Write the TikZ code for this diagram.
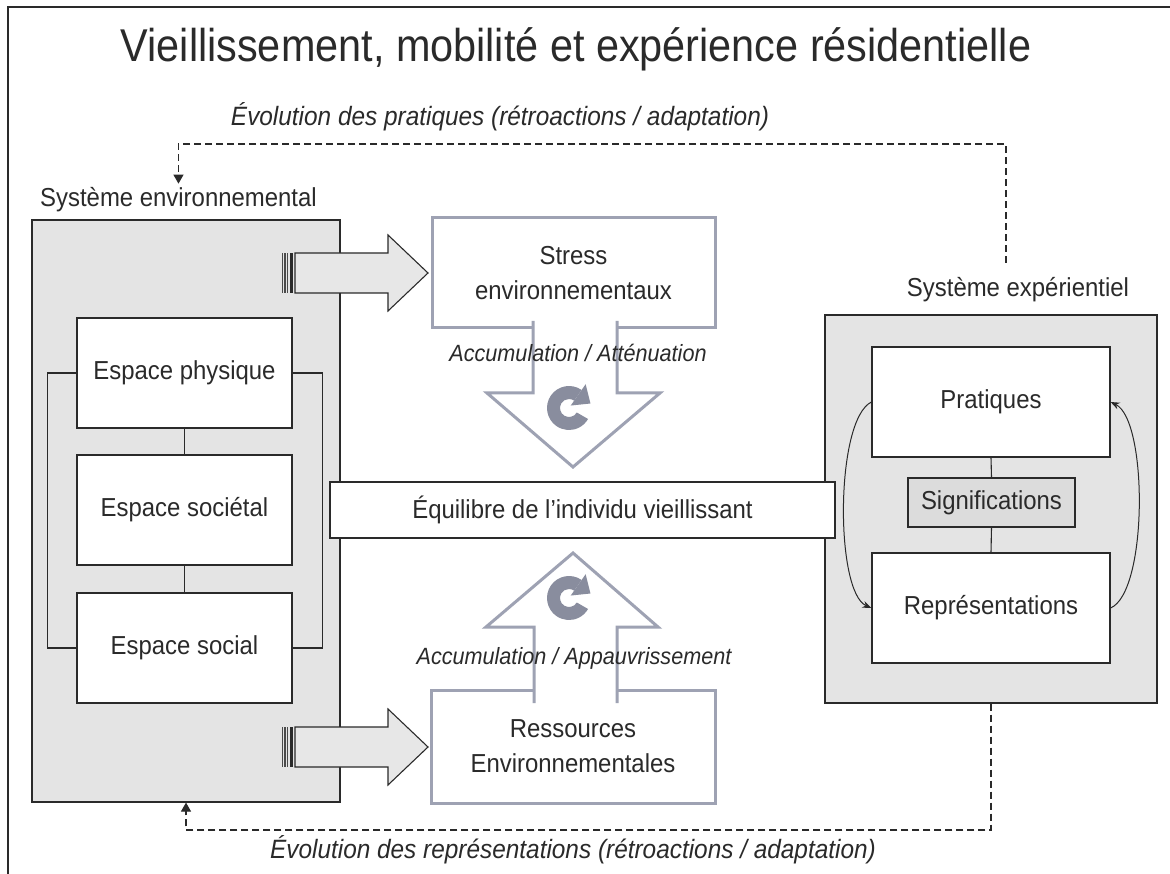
\documentclass[tikz,border=0pt]{standalone}
\usepackage{fontspec}
\setmainfont[FakeStretch=0.92]{Liberation Sans}
\newfontfamily\headfont[FakeStretch=0.9]{Liberation Sans}
\usetikzlibrary{arrows.meta,calc}

\definecolor{panelgray}{HTML}{E4E4E4}
\definecolor{signgray}{HTML}{DCDCDC}
\definecolor{inkgray}{HTML}{2A2A2A}
\definecolor{slateline}{HTML}{9EA2B3}
\definecolor{slateicon}{HTML}{898D9E}
\definecolor{arrowfill}{HTML}{E7E7E7}

\tikzset{
  panel/.style={draw=inkgray, line width=1.2pt, fill=panelgray, inner sep=0pt},
  whitebox/.style={draw=inkgray, line width=1.2pt, fill=white, inner sep=0pt,
    text=inkgray, font=\fontsize{26}{31}\selectfont},
  softbox/.style={draw=slateline, line width=3pt, fill=white, inner sep=0pt,
    align=center, text=inkgray, font=\fontsize{26}{35}\selectfont},
  caption/.style={inner sep=0pt, text=inkgray, font=\fontsize{26}{31}\selectfont},
  note/.style={inner sep=0pt, text=inkgray, font=\fontsize{26.5}{31}\selectfont\itshape},
  flownote/.style={inner sep=0pt, text=inkgray, font=\fontsize{23.5}{28}\selectfont\itshape},
  link/.style={draw=inkgray, line width=1.1pt},
  feedback/.style={draw=inkgray, line width=1.1pt, dash pattern=on 7pt off 4pt},
  loopline/.style={draw=inkgray, line width=1pt, -{Stealth[length=9pt,width=7pt]}},
  hollowarrow/.style={draw=slateline, line width=3pt, line join=miter},
  widearrow/.style={draw=inkgray, line width=1.1pt, fill=arrowfill, line join=miter},
}

% wide grey arrow leaving the environment panel, centred on a given height
\newcommand{\widearrowat}[1]{%
  \begin{scope}[shift={(0,#1)}]
    \path[widearrow] (295,-20) -- (388,-20) -- (388,-38) -- (428,0)
      -- (388,38) -- (388,20) -- (295,20) -- cycle;
    \fill[inkgray!85] (281.5,-20) rectangle (283,20);
    \fill[inkgray!85] (284.2,-20) rectangle (285.7,20);
    \fill[inkgray!85] (286.9,-20) rectangle (288.2,20);
    \fill[inkgray] (290.3,-20) rectangle (292.6,20);
  \end{scope}}

% circular "cycle" symbol: a thick open ring with its head at the upper right
\newcommand{\cyclesign}[1]{%
  \begin{scope}[shift={#1}, yscale=-1]
    \fill[slateicon] (55:22) arc[start angle=55, end angle=330, radius=22]
      -- (330:9) arc[start angle=330, end angle=55, radius=9] -- cycle;
    \fill[slateicon] (55:3) -- (55:29) -- ($(55:16)+(-35:15)$) -- cycle;
  \end{scope}}

\begin{document}
\begin{tikzpicture}[x=1pt, y=-1pt]
\useasboundingbox (0,0) rectangle (1170,874);
\fill[white] (0,0) rectangle (1170,874);

% page frame
\draw[inkgray, line width=1.6pt] (8,874) -- (8,7) -- (1170,7);

% title
\node[inner sep=0pt, text=inkgray, font=\headfont\fontsize{46}{52}\selectfont, anchor=base]
  (title) at (576,62) {Vieillissement, mobilité et expérience résidentielle};

% feedback captions
\node[note, anchor=base] (notetop) at (500,126)
  {Évolution des pratiques (rétroactions / adaptation)};
\node[note, anchor=base] (notebottom) at (573,858)
  {Évolution des représentations (rétroactions / adaptation)};

% environmental system
\node[panel, minimum width=308, minimum height=582] (env) at (186,511) {};
\node[caption, anchor=base west] (envlabel) at (40,207) {Système environnemental};

\node[whitebox, minimum width=215, minimum height=110] (phys) at (184.5,373) {Espace physique};
\node[whitebox, minimum width=215, minimum height=110] (societal) at (184.5,510) {Espace sociétal};
\node[whitebox, minimum width=215, minimum height=110] (social) at (184.5,648) {Espace social};

\draw[link] (phys.south) -- (societal.north);
\draw[link] (societal.south) -- (social.north);
\draw[link] (phys.west) -- ++(-29,0) |- (social.west);
\draw[link] (phys.east) -- ++(30,0) |- (social.east);

% experiential system
\node[panel, minimum width=332, minimum height=388] (exp) at (991,509) {};
\node[caption, anchor=base] (explabel) at (1018,297) {Système expérientiel};

\node[whitebox, minimum width=238, minimum height=110] (prat) at (991,402) {Pratiques};
\node[whitebox, fill=signgray, minimum width=167, minimum height=49] (sign) at (991.5,502.5) {Significations};
\node[whitebox, minimum width=238, minimum height=110] (repr) at (991,608) {Représentations};

\draw[link] (prat.south) -- (sign.north);
\draw[link] (sign.south) -- (repr.north);
\draw[loopline] (prat.west) .. controls (835,420) and (835,592) .. (repr.west);
\draw[loopline] (repr.east) .. controls (1148,592) and (1148,420) .. (prat.east);

% wide arrows from the environment panel
\widearrowat{273}
\widearrowat{747}

% stresses and resources
\node[softbox, minimum width=283, minimum height=110] (stress) at (573.5,273)
  {Stress\\environnementaux};
\node[softbox, minimum width=284, minimum height=113] (resources) at (573,746.5)
  {Ressources\\Environnementales};

% hollow arrows towards the balance
\fill[white] (533,322) -- (617,322) -- (617,393) -- (660,393) -- (573,467)
  -- (487,393) -- (533,393) -- cycle;
\draw[hollowarrow] (533,321) -- (533,393) -- (487,393) -- (573,467)
  -- (660,393) -- (617,393) -- (617,321);
\fill[white] (534,702) -- (534,627) -- (486,627) -- (573,553) -- (658,627)
  -- (617,627) -- (617,702) -- cycle;
\draw[hollowarrow] (534,703) -- (534,627) -- (486,627) -- (573,553)
  -- (658,627) -- (617,627) -- (617,703);

\cyclesign{(569,408)}
\cyclesign{(569,598)}

\node[flownote] (attenuation) at (578,353) {Accumulation / Atténuation};
\node[flownote] (impoverish) at (574,658) {Accumulation / Appauvrissement};

% balance of the ageing individual
\node[whitebox, minimum width=505, minimum height=56] (balance) at (582.5,510)
  {Équilibre de l'individu vieillissant};

% feedback loops
\coordinate (fbstart) at (1006,263);
\coordinate (fbcorner) at (1006,144);
\draw[feedback, -{Triangle[width=10pt,length=9pt]}, shorten >=4pt]
  (fbstart) -- (fbcorner) -| (envlabel.north);
\coordinate (fblow) at (991,830);
\draw[feedback, -{Triangle[width=10pt,length=9pt]}]
  (exp.south) -- (fblow) -| (env.south);
\end{tikzpicture}
\end{document}
